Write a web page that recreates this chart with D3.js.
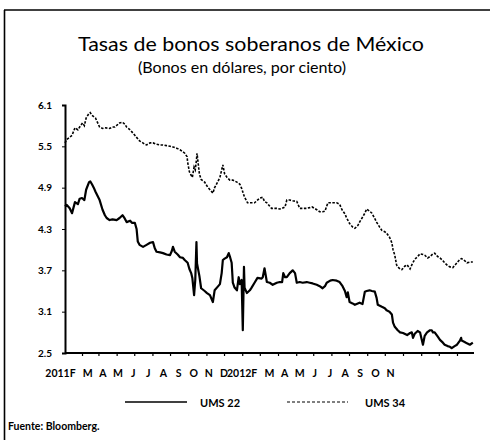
<!DOCTYPE html>
<html><head><meta charset="utf-8">
<script src="https://cdn.jsdelivr.net/npm/d3@7/dist/d3.min.js"></script>
<style>body{margin:0;background:#fff}svg{display:block}text{font-family:Lato,"Liberation Sans",sans-serif;fill:#000}</style>
</head><body><svg id="c" width="490" height="440"></svg>
<script>
const title = "Tasas de bonos  soberanos  de México";
const subtitle = "(Bonos en dólares, por ciento)";
const source = "Fuente: Bloomberg.";
const seriesNames = ["UMS 22", "UMS 34"];
const yTicks = [2.5, 3.1, 3.7, 4.3, 4.9, 5.5, 6.1];
const monthLabels = ["2011","F","M","A","M","J","J","A","S","O","N","D","2012","F","M","A","M","J","J","A","S","O","N"];
const dateStart = "2011-01-03", dateEnd = "2012-11-30";

const ums22 = [
["2011-01-03",4.63],["2011-01-06",4.65],["2011-01-11",4.60],["2011-01-15",4.53],["2011-01-20",4.69],["2011-01-25",4.66],["2011-01-28",4.74],["2011-02-01",4.75],["2011-02-05",4.72],["2011-02-08",4.87],["2011-02-13",4.98],["2011-02-15",4.99],["2011-02-18",4.95],["2011-02-21",4.90],["2011-02-24",4.84],
["2011-03-03",4.72],["2011-03-08",4.58],["2011-03-12",4.50],["2011-03-15",4.46],["2011-03-20",4.43],["2011-03-25",4.44],["2011-04-01",4.43],["2011-04-06",4.46],["2011-04-11",4.50],["2011-04-15",4.45],["2011-04-18",4.40],["2011-04-24",4.42],["2011-04-27",4.39],["2011-05-02",4.39],["2011-05-05",4.30],["2011-05-07",4.12],["2011-05-10",4.07],["2011-05-16",4.04],["2011-05-22",4.07],["2011-05-28",4.10],
["2011-06-02",4.11],["2011-06-05",4.02],["2011-06-08",3.97],["2011-06-14",3.96],["2011-06-19",3.95],["2011-06-25",3.93],["2011-07-01",3.92],["2011-07-04",3.98],["2011-07-06",4.04],["2011-07-09",3.97],["2011-07-14",3.93],["2011-07-18",3.89],["2011-07-23",3.88],["2011-07-26",3.85],["2011-07-31",3.81],
["2011-08-03",3.72],["2011-08-06",3.66],["2011-08-08",3.59],["2011-08-11",3.34],["2011-08-13",3.56],["2011-08-15",4.11],["2011-08-16",3.80],["2011-08-20",3.62],["2011-08-23",3.44],["2011-08-29",3.40],["2011-09-02",3.37],["2011-09-07",3.34],["2011-09-12",3.24],["2011-09-15",3.41],["2011-09-20",3.46],["2011-09-24",3.50],["2011-09-27",3.66],["2011-09-29",3.85],
["2011-10-02",3.87],["2011-10-06",3.89],["2011-10-09",3.95],["2011-10-11",3.90],["2011-10-14",3.81],["2011-10-16",3.52],["2011-10-19",3.45],["2011-10-23",3.41],["2011-10-26",3.60],["2011-10-28",3.50],["2011-10-31",3.56],["2011-11-02",2.83],["2011-11-04",3.75],["2011-11-05",3.45],["2011-11-09",3.37],["2011-11-14",3.41],["2011-11-17",3.45],["2011-11-22",3.52],["2011-11-27",3.59],
["2011-12-04",3.58],["2011-12-06",3.60],["2011-12-09",3.73],["2011-12-13",3.53],["2011-12-18",3.52],["2011-12-23",3.49],["2011-12-30",3.52],["2012-01-04",3.53],["2012-01-08",3.53],["2012-01-10",3.66],["2012-01-13",3.60],["2012-01-16",3.60],["2012-01-21",3.66],["2012-01-26",3.70],["2012-01-30",3.66],
["2012-02-02",3.52],["2012-02-07",3.53],["2012-02-12",3.52],["2012-02-19",3.53],["2012-02-24",3.52],["2012-02-29",3.51],["2012-03-07",3.49],["2012-03-12",3.47],["2012-03-17",3.44],["2012-03-21",3.47],["2012-03-24",3.52],["2012-03-30",3.55],["2012-04-03",3.56],["2012-04-10",3.55],["2012-04-15",3.53],["2012-04-20",3.47],["2012-04-24",3.40],["2012-04-27",3.31],["2012-04-29",3.38],
["2012-05-02",3.24],["2012-05-07",3.22],["2012-05-11",3.20],["2012-05-19",3.23],["2012-05-24",3.21],["2012-05-28",3.39],["2012-05-31",3.40],["2012-06-05",3.41],["2012-06-09",3.40],["2012-06-14",3.39],["2012-06-17",3.30],["2012-06-19",3.20],["2012-06-26",3.17],["2012-07-01",3.15],["2012-07-04",3.12],["2012-07-09",3.10],["2012-07-13",3.06],["2012-07-15",2.94],["2012-07-18",2.88],["2012-07-23",2.83],["2012-07-27",2.80],
["2012-08-01",2.79],["2012-08-08",2.76],["2012-08-13",2.79],["2012-08-16",2.80],["2012-08-18",2.72],["2012-08-21",2.78],["2012-08-26",2.82],["2012-08-30",2.80],["2012-09-04",2.62],["2012-09-07",2.75],["2012-09-11",2.80],["2012-09-16",2.83],["2012-09-19",2.83],["2012-09-21",2.80],["2012-09-24",2.80],["2012-09-29",2.74],
["2012-10-03",2.69],["2012-10-08",2.65],["2012-10-11",2.62],["2012-10-16",2.60],["2012-10-20",2.59],["2012-10-23",2.57],["2012-10-28",2.60],["2012-11-01",2.62],["2012-11-06",2.68],["2012-11-08",2.72],["2012-11-09",2.68],["2012-11-14",2.66],["2012-11-18",2.64],["2012-11-23",2.62],["2012-11-28",2.65]
];

const ums34 = [
["2011-01-03",5.55],["2011-01-06",5.60],["2011-01-11",5.63],["2011-01-15",5.66],["2011-01-20",5.77],["2011-01-25",5.74],["2011-01-28",5.78],["2011-02-02",5.84],["2011-02-05",5.80],["2011-02-08",5.91],["2011-02-13",5.98],["2011-02-15",5.99],["2011-02-18",5.95],["2011-02-21",5.93],["2011-02-24",5.91],
["2011-03-03",5.78],["2011-03-08",5.76],["2011-03-12",5.77],["2011-03-20",5.76],["2011-03-25",5.78],["2011-03-29",5.78],["2011-04-06",5.84],["2011-04-11",5.85],["2011-04-15",5.82],["2011-04-18",5.78],["2011-04-24",5.74],["2011-04-27",5.71],["2011-05-02",5.66],["2011-05-05",5.63],["2011-05-10",5.58],["2011-05-14",5.56],["2011-05-19",5.53],["2011-05-22",5.52],["2011-05-28",5.55],
["2011-06-02",5.55],["2011-06-08",5.53],["2011-06-14",5.52],["2011-06-19",5.52],["2011-06-25",5.51],["2011-07-01",5.50],["2011-07-06",5.49],["2011-07-13",5.47],["2011-07-18",5.45],["2011-07-23",5.42],["2011-07-26",5.40],["2011-07-30",5.35],["2011-07-31",5.27],
["2011-08-03",5.13],["2011-08-06",5.08],["2011-08-08",5.05],["2011-08-11",5.20],["2011-08-13",5.16],["2011-08-15",5.30],["2011-08-16",5.40],["2011-08-20",5.10],["2011-08-23",5.02],["2011-08-29",4.98],["2011-09-03",4.91],["2011-09-07",4.87],["2011-09-12",4.82],["2011-09-15",4.90],["2011-09-20",4.98],["2011-09-24",5.05],["2011-09-29",5.23],
["2011-10-02",5.10],["2011-10-06",5.05],["2011-10-11",5.01],["2011-10-16",5.01],["2011-10-23",4.98],["2011-10-28",4.95],["2011-10-31",4.89],["2011-11-05",4.76],["2011-11-09",4.70],["2011-11-10",4.68],["2011-11-17",4.68],["2011-11-22",4.68],["2011-11-27",4.72],
["2011-12-01",4.75],["2011-12-06",4.76],["2011-12-09",4.70],["2011-12-13",4.68],["2011-12-18",4.63],["2011-12-21",4.60],["2011-12-30",4.60],["2012-01-04",4.59],["2012-01-08",4.60],["2012-01-13",4.62],["2012-01-16",4.72],["2012-01-21",4.72],["2012-01-26",4.71],
["2012-02-02",4.70],["2012-02-07",4.60],["2012-02-12",4.60],["2012-02-19",4.60],["2012-02-24",4.61],["2012-02-28",4.62],["2012-03-07",4.58],["2012-03-12",4.55],["2012-03-17",4.55],["2012-03-21",4.56],["2012-03-26",4.68],["2012-03-30",4.68],["2012-04-03",4.68],["2012-04-10",4.68],["2012-04-15",4.66],["2012-04-19",4.58],["2012-04-24",4.52],["2012-04-27",4.46],
["2012-05-02",4.38],["2012-05-07",4.33],["2012-05-11",4.31],["2012-05-16",4.35],["2012-05-19",4.40],["2012-05-24",4.47],["2012-05-28",4.53],["2012-05-31",4.59],["2012-06-05",4.56],["2012-06-09",4.53],["2012-06-14",4.45],["2012-06-17",4.40],["2012-06-22",4.33],["2012-06-26",4.28],["2012-07-01",4.26],["2012-07-04",4.24],["2012-07-09",4.18],["2012-07-13",4.10],["2012-07-15",4.00],["2012-07-18",3.92],["2012-07-21",3.78],["2012-07-23",3.75],["2012-07-27",3.72],["2012-07-30",3.71],
["2012-08-04",3.76],["2012-08-08",3.78],["2012-08-13",3.72],["2012-08-16",3.78],["2012-08-21",3.86],["2012-08-26",3.90],["2012-08-30",3.94],["2012-09-04",3.93],["2012-09-07",3.92],["2012-09-12",3.88],["2012-09-16",3.90],["2012-09-21",3.94],["2012-09-24",3.95],["2012-09-29",3.90],
["2012-10-03",3.88],["2012-10-08",3.84],["2012-10-11",3.81],["2012-10-16",3.77],["2012-10-20",3.75],["2012-10-25",3.74],["2012-10-28",3.77],["2012-11-02",3.82],["2012-11-06",3.86],["2012-11-09",3.87],["2012-11-14",3.84],["2012-11-18",3.81],["2012-11-23",3.82],["2012-11-28",3.82]
];

const svg = d3.select("#c");
const parse = d3.timeParse("%Y-%m-%d");
const x = d3.scaleTime().domain([parse(dateStart), parse(dateEnd)]).range([65, 474]);
const y = d3.scaleLinear().domain([2.5, 6.1]).range([353, 105]);
const xl = d3.scalePoint().domain(d3.range(monthLabels.length)).range([57, 390]);

// frame
svg.append("line").attr("x1",4).attr("x2",490).attr("y1",10).attr("y2",10).attr("stroke","#000").attr("stroke-width",1.6);
svg.append("line").attr("x1",4.5).attr("x2",4.5).attr("y1",10).attr("y2",440).attr("stroke","#000").attr("stroke-width",1.6);

svg.append("text").attr("x",251).attr("y",51).attr("text-anchor","middle").attr("font-size",19)
  .attr("textLength",346).attr("lengthAdjust","spacingAndGlyphs").text(title);
svg.append("text").attr("x",242).attr("y",73).attr("text-anchor","middle").attr("font-size",15)
  .attr("textLength",208).attr("lengthAdjust","spacingAndGlyphs").text(subtitle);

// y axis
const ya = svg.append("g").attr("transform","translate(65,0)")
  .call(d3.axisLeft(y).tickValues(yTicks).tickSize(3).tickFormat(d3.format(".1f")));
ya.select(".domain").attr("stroke-width",2);
ya.selectAll("text").attr("font-size",10).attr("font-weight","bold").attr("x",-13).style("font-family","Lato, sans-serif");

// x axis
const xa = svg.append("g").attr("transform","translate(0,353)")
  .call(d3.axisBottom(x).ticks(d3.timeMonth.every(1)).tickSize(3).tickFormat(""));
xa.select(".domain").attr("stroke-width",2).attr("d","M65,0H474");
xa.selectAll(".tick line").attr("stroke-width",1.2);

const xla = svg.append("g").attr("transform","translate(0,368)")
  .call(d3.axisBottom(xl).tickSize(0).tickFormat(i => monthLabels[i]));
xla.select(".domain").remove();
xla.selectAll("text").attr("font-size",10.5).attr("font-weight","bold").attr("dy","0.55em").style("font-family","Lato, sans-serif");

const line = d3.line().x(d => x(parse(d[0]))).y(d => y(d[1]));
svg.append("path").datum(ums34).attr("d",line).attr("fill","none").attr("stroke","#000")
  .attr("stroke-width",1.6).attr("stroke-dasharray","2.5,1.5");
svg.append("path").datum(ums22).attr("d",line).attr("fill","none").attr("stroke","#000")
  .attr("stroke-width",2.2).attr("stroke-linejoin","round");

// legend
const lg = svg.append("g");
lg.append("line").attr("x1",125).attr("x2",187).attr("y1",402).attr("y2",402).attr("stroke","#000").attr("stroke-width",1.5);
lg.append("text").attr("x",200).attr("y",407).attr("font-size",11).attr("font-weight","bold").text(seriesNames[0]);
lg.append("line").attr("x1",287).attr("x2",348).attr("y1",402).attr("y2",402).attr("stroke","#000").attr("stroke-width",1.2).attr("stroke-dasharray","3,2");
lg.append("text").attr("x",365).attr("y",407).attr("font-size",11).attr("font-weight","bold").text(seriesNames[1]);

svg.append("text").attr("x",8).attr("y",430).attr("font-size",10.5).attr("font-weight","bold").text(source);
</script></body></html>
